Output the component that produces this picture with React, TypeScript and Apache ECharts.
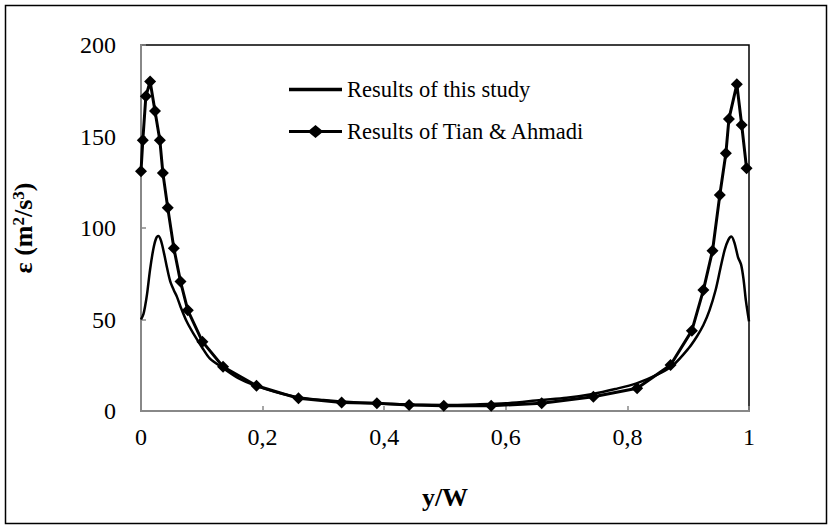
import React, { useEffect, useRef } from "react";
import * as echarts from "echarts";

const xTicks = [0, 0.2, 0.4, 0.6, 0.8, 1];
const yTicks = [0, 50, 100, 150, 200];

const seriesNames = ["Results of this study", "Results of Tian & Ahmadi"];

const studyX = [0, 0.004, 0.0066, 0.01, 0.0148, 0.02, 0.0245, 0.0285, 0.033, 0.038, 0.043, 0.048, 0.054, 0.059, 0.065, 0.075, 0.086, 0.1, 0.113, 0.135, 0.16, 0.19, 0.22, 0.26, 0.3, 0.35, 0.4, 0.45, 0.5, 0.55, 0.6, 0.658, 0.7, 0.743, 0.78, 0.815, 0.85, 0.875, 0.9, 0.914, 0.925, 0.935, 0.945, 0.953, 0.96, 0.966, 0.971, 0.976, 0.982, 0.987, 0.991, 0.995, 1];
const studyY = [50, 53, 57, 64, 77, 88, 94, 95.6, 93, 86, 78, 71, 66, 62.5, 57, 49, 42.4, 35, 28.8, 23.5, 18, 13.7, 10.5, 7.4, 6, 4.8, 4, 3.5, 3.3, 3.6, 4.2, 6, 7.2, 9.3, 12, 15.1, 20, 25, 34, 40.6, 47, 55, 66, 78, 88, 93.5, 95.3, 92, 84, 80, 72, 60, 49];

const tianX = [0, 0.003, 0.008, 0.015, 0.023, 0.031, 0.036, 0.044, 0.054, 0.065, 0.077, 0.101, 0.135, 0.19, 0.259, 0.33, 0.388, 0.441, 0.498, 0.576, 0.659, 0.744, 0.816, 0.871, 0.906, 0.925, 0.94, 0.952, 0.962, 0.967, 0.98, 0.988, 0.996];
const tianY = [131, 148, 172, 180, 164, 148, 130, 111, 89, 70.7, 55, 37.9, 24.2, 13.8, 6.9, 4.7, 4.2, 3.3, 2.9, 2.9, 4.2, 7.8, 12.4, 25.1, 43.9, 66.1, 87.6, 118, 140.8, 159.6, 178.5, 156.3, 132.6];

const FONT = "'Liberation Serif', 'Times New Roman', serif";

const lineIcon = "path://M0 5.3 L53 5.3 L53 8.7 L0 8.7 Z";
const diamondIcon = "path://M0 5.5 L20.5 5.5 L26.5 0.5 L32.5 5.5 L53 5.5 L53 8.5 L32.5 8.5 L26.5 13.5 L20.5 8.5 L0 8.5 Z";

export default function App() {
  const ref = useRef<HTMLDivElement>(null);
  useEffect(() => {
    if (!ref.current) return;
    const chart = echarts.init(ref.current, null, { renderer: "svg" });
    const fmt = (v: number) => String(v).replace(".", ",");
    chart.setOption({
      animation: false,
      backgroundColor: "#ffffff",
      textStyle: { fontFamily: FONT, color: "#000" },
      graphic: [
        {
          type: "rect",
          shape: { x: 5.5, y: 5.5, width: 821, height: 518 },
          style: { fill: "none", stroke: "#000", lineWidth: 1.5 },
          silent: true,
        },
      ],
      grid: {
        left: 141,
        right: 83,
        top: 45,
        bottom: 118,
        show: true,
        borderColor: "#000",
        borderWidth: 1.5,
        backgroundColor: "transparent",
      },
      legend: {
        orient: "vertical",
        left: 289,
        top: 78,
        padding: 0,
        itemWidth: 53,
        itemHeight: 14,
        itemGap: 19,
        textStyle: { fontFamily: FONT, fontSize: 22.5, color: "#000" },
        data: [
          { name: seriesNames[0], icon: lineIcon, itemStyle: { color: "#000" } },
          { name: seriesNames[1], icon: diamondIcon, itemStyle: { color: "#000" } },
        ],
      },
      xAxis: {
        type: "value",
        min: 0,
        max: 1,
        interval: 0.2,
        name: "y/W",
        nameLocation: "middle",
        nameGap: 73,
        nameTextStyle: { fontFamily: FONT, fontSize: 26, fontWeight: "bold", color: "#000" },
        axisLine: { show: true, onZero: false, lineStyle: { color: "#888", width: 2 } },
        axisTick: { show: true, inside: true, length: 5, lineStyle: { color: "#888", width: 1.5 } },
        splitLine: { show: false },
        axisLabel: {
          margin: 14,
          fontFamily: FONT,
          fontSize: 24,
          color: "#000",
          formatter: (v: number) => fmt(v),
          customValues: xTicks,
        },
      },
      yAxis: {
        type: "value",
        min: 0,
        max: 200,
        interval: 50,
        name: "{n|ε (m}{s|2}{n|/s}{s|3}{n|)}",
        nameLocation: "middle",
        nameGap: 104,
        nameRotate: 90,
        nameTextStyle: {
          fontFamily: FONT,
          fontSize: 26,
          fontWeight: "bold",
          color: "#000",
          rich: {
            n: { fontFamily: FONT, fontSize: 26, fontWeight: "bold", color: "#000" },
            s: { fontFamily: FONT, fontSize: 17, fontWeight: "bold", color: "#000", verticalAlign: "top", padding: [0, 0, 10, 0] },
          },
        },
        axisLine: { show: true, lineStyle: { color: "#888", width: 2 } },
        axisTick: { show: true, inside: true, length: 5, lineStyle: { color: "#888", width: 1.5 } },
        splitLine: { show: false },
        axisLabel: {
          margin: 25,
          fontFamily: FONT,
          fontSize: 24,
          color: "#000",
          customValues: yTicks,
        },
      },
      series: [
        {
          name: seriesNames[0],
          type: "line",
          data: studyX.map((x, i) => [x, studyY[i]]),
          smooth: 0.3,
          showSymbol: false,
          symbol: "none",
          lineStyle: { color: "#000", width: 2.5 },
          itemStyle: { color: "#000" },
          z: 3,
        },
        {
          name: seriesNames[1],
          type: "line",
          data: tianX.map((x, i) => [x, tianY[i]]),
          smooth: false,
          symbol: "diamond",
          symbolSize: 12,
          lineStyle: { color: "#000", width: 3 },
          itemStyle: { color: "#000" },
          z: 4,
        },
      ],
    });
    return () => chart.dispose();
  }, []);
  return (
    <div
      ref={ref}
      style={{ position: "fixed", left: 0, top: 0, width: 832, height: 529 }}
    />
  );
}
